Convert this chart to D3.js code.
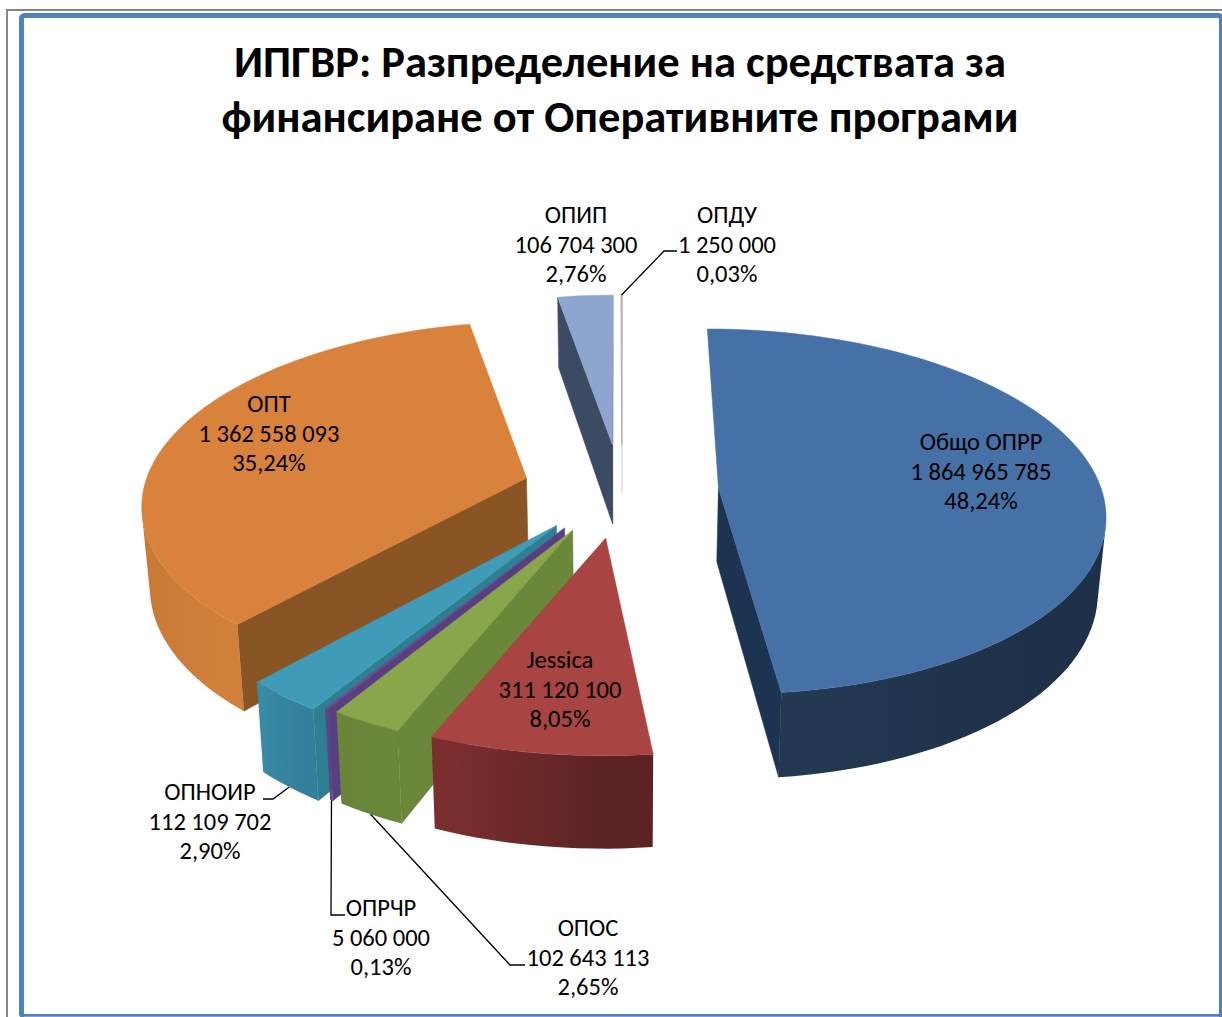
<!DOCTYPE html>
<html><head><meta charset="utf-8">
<style>html,body{margin:0;padding:0;background:#fff;overflow:hidden}svg{display:block}</style>
<script src="https://cdn.jsdelivr.net/npm/d3@7"></script>
</head><body>
<svg id="c" width="1222" height="1017"></svg>
<script>
const titleLines = ["ИПГВР: Разпределение на средствата за","финансиране от Оперативните програми"];
const categories = ["Общо ОПРР","Jessica","ОПОС","ОПРЧР","ОПНОИР","ОПТ","ОПИП","ОПДУ"];
const values = [1864965785,311120100,102643113,5060000,112109702,1362558093,106704300,1250000];
const valueLabels = ["1 864 965 785","311 120 100","102 643 113","5 060 000","112 109 702","1 362 558 093","106 704 300","1 250 000"];
const percentLabels = ["48,24%","8,05%","2,65%","0,13%","2,90%","35,24%","2,76%","0,03%"];
const topColors = ["#4671a6","#a84441","#89a64a","#6a4c93","#3f9bb8","#d9823c","#8da5cf","#bdb0b0"];
const radialColors = ["#1c3451","#6f2a29","#6b8739","#5a3f80","#2f7f93","#8a5525","#3c4a63","#ded8d8"];
const wallStartColors = ["#1e3149","#5c2324","#6b8739","#5d4585","#33809c","#d08039","#3c4a63","#ded8d8"];
const wallEndColors = ["#233851","#7a2e2e","#6a853a","#5d4585","#388aa6","#cb7a36","#3c4a63","#ded8d8"];
const labelAnchors = [[981,450],[560,668],[588,936],[381,916],[210,800],[269,412],[576,223],[727,223]];
const leaderElbows = {2:[[510,965],[525,965]],3:[[331,915],[345,915]],4:[[273,799],[263,799]],7:[[664,251],[677,251]]};
const sliceExplode = [0.26,0.30,0.28,0.28,0.28,0.27,0.30,0.30];
const sliceRadiusX = [1.03,1.02,1,1,1.01,1.03,1,1];
const sliceRadiusY = [1,0.98,1,1,1.02,1,1,1];
const sliceTurnDeg = [0,0,0,0,0,-1.5,0,0];
const sliceDepth = [74,78,79,79,79,79,82,50];
const hideStartWall = [true,false,false,false,false,false,false,false];

const W=1222,H=1017;
const cx=622, cy=490, A=372, B=180, k=0.13, yExplodeRatio=0.87, shrink=0.983;
const font="Carlito, Lato, 'Open Sans', sans-serif";
const svg=d3.select("#c");
const defs=svg.append("defs");

// frame
svg.append("rect").attr("x",7).attr("y",10).attr("width",W).attr("height",H).attr("fill","none").attr("stroke","#868686").attr("stroke-width",2);
svg.append("rect").attr("x",21.5).attr("y",15.5).attr("width",W-21.5-0.5).attr("height",H-16).attr("rx",3).attr("fill","#fff").attr("stroke","#4f81bd").attr("stroke-width",5);
svg.append("rect").attr("x",24).attr("y",1016).attr("width",W-27).attr("height",1).attr("fill","#7fa3d3");

// title
svg.append("g").selectAll("text").data(titleLines).join("text")
 .attr("x",620).attr("y",(d,i)=>77+i*55).attr("text-anchor","middle")
 .attr("font-family",font).attr("font-weight",700).attr("font-size",44.5).attr("fill","#000").text(d=>d);

const pie=d3.pie().sort(null).value(d=>d).startAngle(0).endAngle(2*Math.PI);
const arcs=pie(values).map((a,i)=>({...a,i,mid:(a.startAngle+a.endAngle)/2}));

function project(theta,r,s,bottom){
  const turn=sliceTurnDeg[s.i]*Math.PI/180, e=sliceExplode[s.i];
  const X=r*sliceRadiusX[s.i]*Math.sin(theta+turn)+e*Math.sin(s.mid);
  const Y=-r*sliceRadiusY[s.i]*Math.cos(theta+turn)-e*yExplodeRatio*Math.cos(s.mid);
  const p=1/(1-k*Y);
  let x=cx+A*X*p, y=cy+B*Y*p;
  if(bottom){x=cx+(x-cx)*shrink; y+=sliceDepth[s.i]*p;}
  return [x,y];
}
const line=d3.line();
const gPie=svg.append("g");

const order=arcs.slice().sort((a,b)=>(-Math.cos(a.mid))-(-Math.cos(b.mid)));
order.forEach(s=>{
  const i=s.i, n=Math.max(2,Math.ceil((s.endAngle-s.startAngle)/(Math.PI/90)));
  const ts=d3.range(n+1).map(j=>s.startAngle+(s.endAngle-s.startAngle)*j/n);
  const g=gPie.append("g").attr("class","slice");
  const apexT=project(0,0,s,false), apexB=project(0,0,s,true);
  const pt=t=>project(t,1,s,false), pb=t=>project(t,1,s,true);

  const radial=[];
  if(!hideStartWall[i]) radial.push([apexT,pt(s.startAngle),pb(s.startAngle),apexB]);
  radial.push([pt(s.endAngle),apexT,apexB,pb(s.endAngle)]);
  g.selectAll("path.radial").data(radial.filter(q=>d3.polygonArea(q)>0)).join("path").attr("class","radial")
    .attr("d",q=>line(q)+"Z").attr("fill",radialColors[i]).attr("stroke",radialColors[i]).attr("stroke-width",0.5);

  // outer wall: the run of arc steps turned to the viewer, drawn as one shape
  const front=d3.range(n).filter(j=>d3.polygonArea([pt(ts[j]),pt(ts[j+1]),pb(ts[j+1]),pb(ts[j])])>0);
  if(front.length){
    const run=[...front.map(j=>ts[j]),ts[front[front.length-1]+1]];
    const id="wall"+i;
    const gr=defs.append("linearGradient").attr("id",id).attr("gradientUnits","userSpaceOnUse")
      .attr("x1",pt(run[0])[0]).attr("x2",pt(run[run.length-1])[0]).attr("y1",0).attr("y2",0);
    gr.append("stop").attr("offset",0.25).attr("stop-color",wallStartColors[i]);
    gr.append("stop").attr("offset",0.9).attr("stop-color",wallEndColors[i]);
    g.append("path").attr("class","wall").attr("d",line([...run.map(pt),...run.slice().reverse().map(pb)])+"Z")
      .attr("fill",`url(#${id})`);
  }
  const topPoly=[apexT,...ts.map(pt)];
  g.append("path").attr("class","top").attr("d",line(topPoly)+"Z").attr("fill",topColors[i]).attr("stroke",topColors[i]).attr("stroke-width",i===7?1.5:0.5);
});

// leaders
const gLead=svg.append("g");
Object.keys(leaderElbows).forEach(key=>{
  const i=+key, s=arcs[i];
  const start=i===7?project(s.mid,1,s,false):project(s.mid,1,s,true);
  gLead.append("path").attr("d",line([start,...leaderElbows[i]])).attr("fill","none").attr("stroke","#000").attr("stroke-width",1.3);
});

// labels
const gLab=svg.append("g").attr("font-family",font).attr("font-size",24.5).attr("fill","#000").attr("text-anchor","middle");
categories.forEach((c,i)=>{
  [c,valueLabels[i],percentLabels[i]].forEach((t,j)=>{
    gLab.append("text").attr("x",labelAnchors[i][0]).attr("y",labelAnchors[i][1]+j*29.7).text(t);
  });
});
</script>
</body></html>
